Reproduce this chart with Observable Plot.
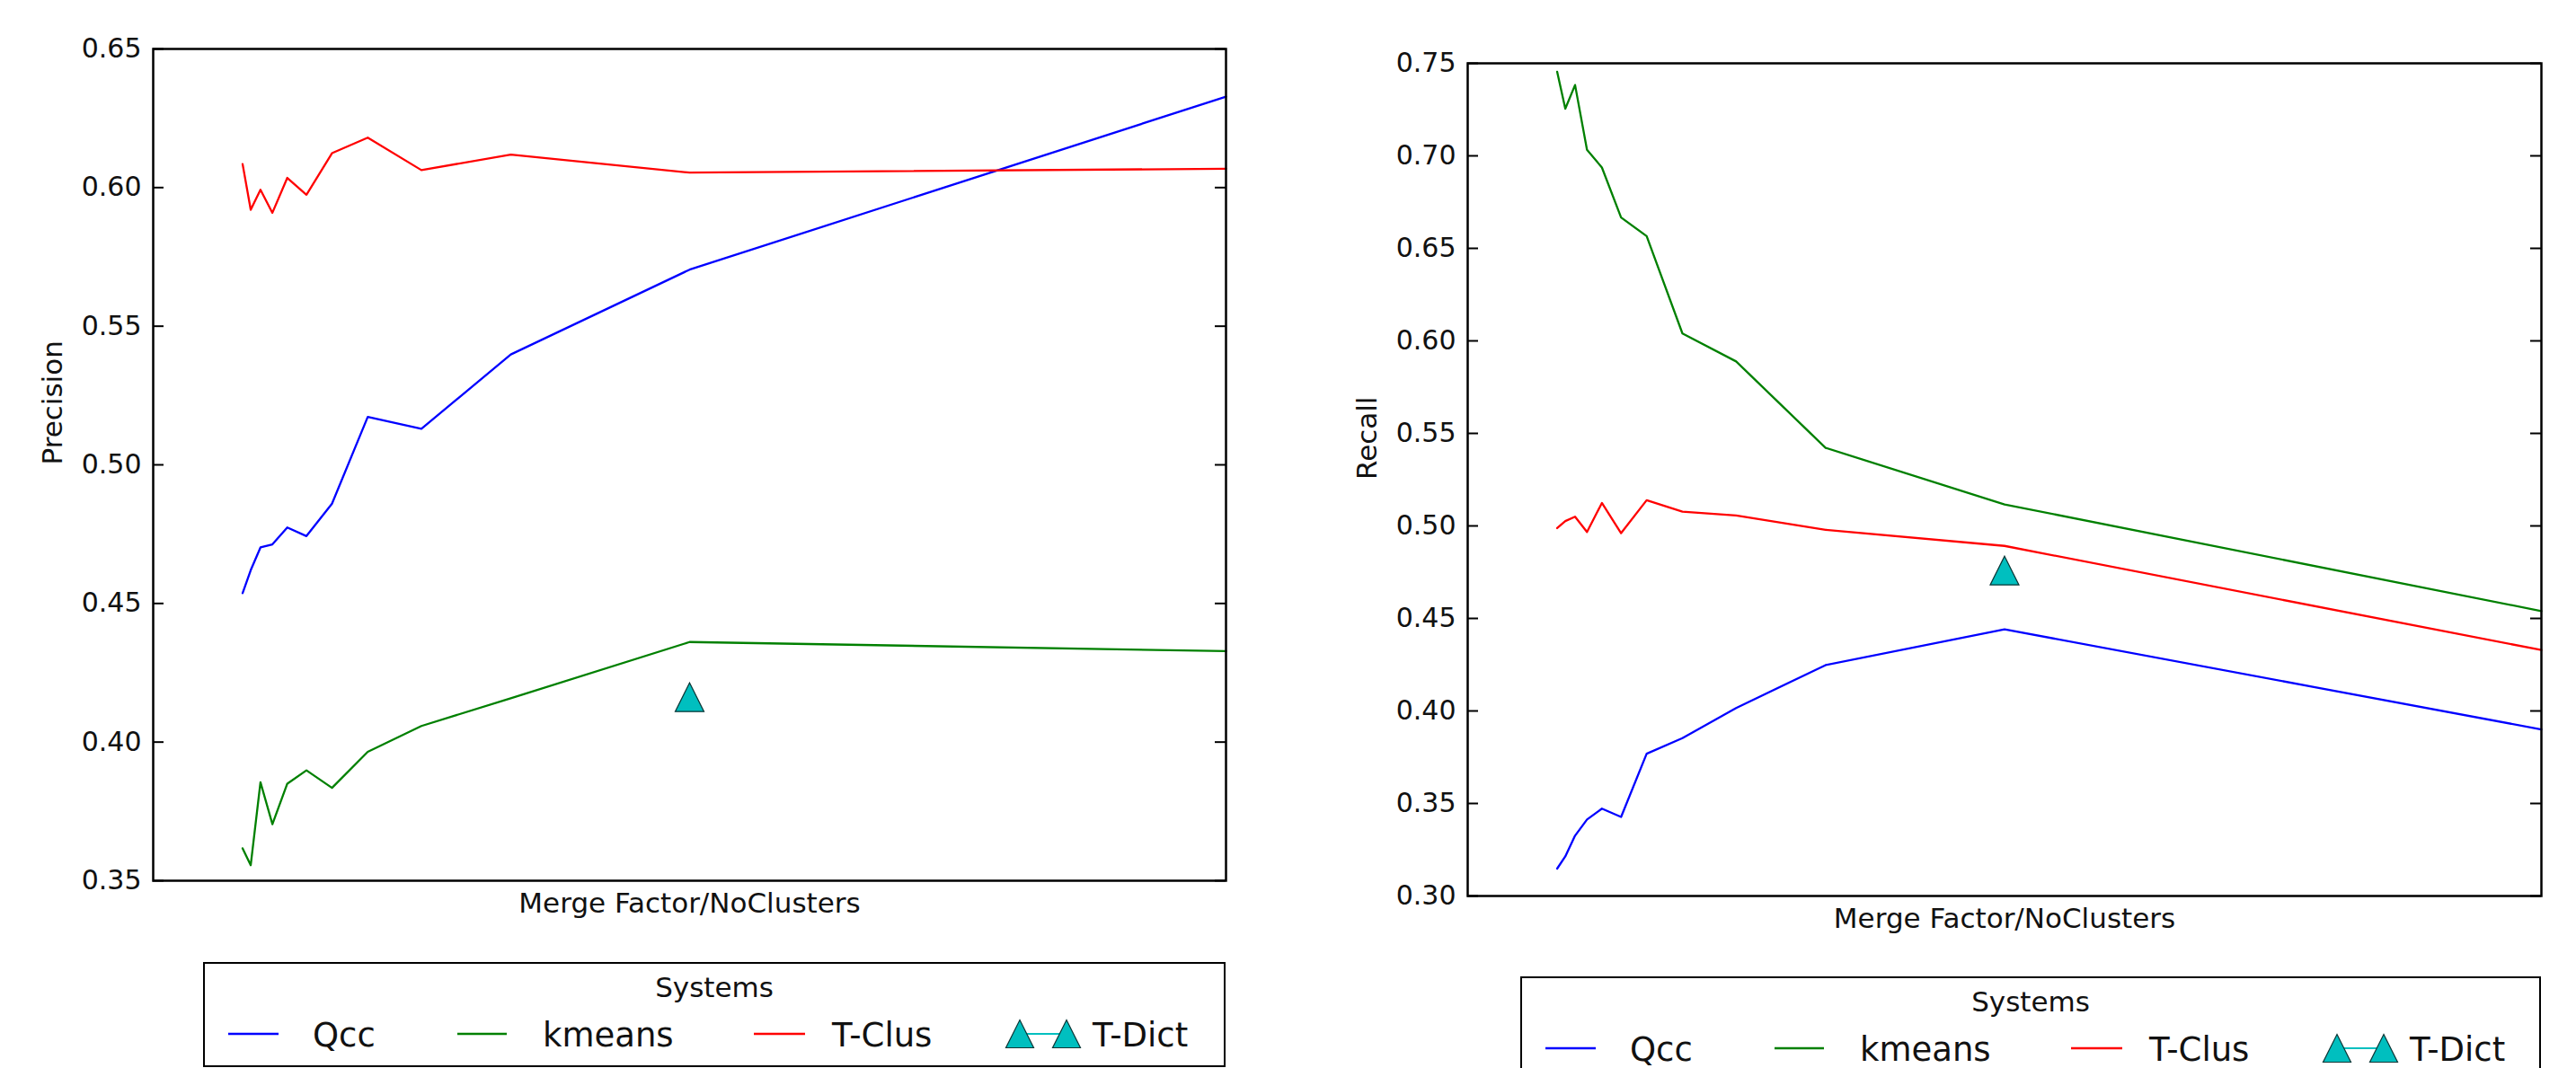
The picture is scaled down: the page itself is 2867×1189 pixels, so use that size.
<!DOCTYPE html>
<html>
<head>
<meta charset="utf-8">
<script src="https://cdn.jsdelivr.net/npm/d3@7"></script>
<script src="https://cdn.jsdelivr.net/npm/@observablehq/plot@0.6"></script>
<style>
  html, body { margin: 0; padding: 0; background: #fff; }
  #root { position: relative; width: 2867px; height: 1189px; overflow: hidden; background: #fff; font-family: "DejaVu Sans", sans-serif; }
  #root > * { position: absolute; }
</style>
</head>
<body>
<div id="root"></div>
<script>
// ---------------- data ----------------
const mergeFactor = [1/12, 1/11, 1/10, 1/9, 1/8, 1/7, 1/6, 1/5, 1/4, 1/3, 1/2, 1];
const lineSystems = ["Qcc", "kmeans", "T-Clus"];
const allSystems = ["Qcc", "kmeans", "T-Clus", "T-Dict"];

const precisionQcc    = [0.4537, 0.4620, 0.4702, 0.4713, 0.4774, 0.4743, 0.4860, 0.5173, 0.5130, 0.5398, 0.5704, 0.6328];
const precisionKmeans = [0.3617, 0.3556, 0.3855, 0.3704, 0.3850, 0.3898, 0.3835, 0.3965, 0.4058, 0.4158, 0.4361, 0.4328];
const precisionTClus  = [0.6085, 0.5920, 0.5992, 0.5909, 0.6035, 0.5974, 0.6124, 0.6180, 0.6063, 0.6119, 0.6054, 0.6068];
const precisionTDictX = [0.5];
const precisionTDict  = [0.4162];

const recallQcc    = [0.3148, 0.3214, 0.3326, 0.3413, 0.3472, 0.3427, 0.3769, 0.3853, 0.4016, 0.4248, 0.4441, 0.3900];
const recallKmeans = [0.7454, 0.7255, 0.7383, 0.7033, 0.6937, 0.6667, 0.6566, 0.6040, 0.5889, 0.5422, 0.5116, 0.4540];
const recallTClus  = [0.4988, 0.5026, 0.5050, 0.4967, 0.5124, 0.4961, 0.5139, 0.5077, 0.5056, 0.4979, 0.4892, 0.4329];
const recallTDictX = [0.5];
const recallTDict  = [0.4759];

const precisionTicks = [0.35, 0.40, 0.45, 0.50, 0.55, 0.60, 0.65];
const recallTicks    = [0.30, 0.35, 0.40, 0.45, 0.50, 0.55, 0.60, 0.65, 0.70, 0.75];

const xLabel = "Merge Factor/NoClusters";
const legendTitle = "Systems";

// ---------------- styles ----------------
const lineColors = ["#0000ff", "#008000", "#ff0000"];
const markerFill = "#00bfbf";
const FONT = "DejaVu Sans";

// matplotlib-like '^' marker: isosceles triangle, height = width
const triangleSymbol = {
  draw(context, size) {
    const h = Math.sqrt(size / Math.PI);
    context.moveTo(0, -h);
    context.lineTo(h, h);
    context.lineTo(-h, h);
    context.closePath();
  }
};

function toRows(series) {
  const rows = [];
  series.forEach((values, i) => {
    values.forEach((v, j) => rows.push({system: lineSystems[i], x: mergeFactor[j], value: v}));
  });
  return rows;
}

function panel({series, tdX, tdY, yDomain, yTicks, yLabel, width, height, mL, mR, mT, mB}) {
  const innerW = width - mL - mR;
  const rows = toRows(series);
  const td = tdX.map((x, i) => ({x, value: tdY[i]}));
  return Plot.plot({
    width, height,
    marginLeft: mL, marginRight: mR, marginTop: mT, marginBottom: mB,
    style: {fontFamily: FONT, background: "transparent", color: "#000", overflow: "visible"},
    x: {domain: [0, 1], axis: null},
    y: {domain: yDomain},
    color: {domain: lineSystems, range: lineColors},
    marks: [
      Plot.tickY(yTicks, {y: d => d, stroke: "#000", strokeWidth: 2, insetRight: innerW - 12}),
      Plot.tickY(yTicks, {y: d => d, stroke: "#000", strokeWidth: 2, insetLeft: innerW - 12}),
      Plot.axisY({ticks: yTicks, tickSize: 0, tickPadding: 13, tickFormat: d3.format(".2f"), fontSize: 30, label: null, fill: "#111"}),
      Plot.line(rows, {x: "x", y: "value", z: "system", stroke: "system", strokeWidth: 2.3}),
      Plot.dot(td, {x: "x", y: "value", symbol: triangleSymbol, r: 16, fill: markerFill, stroke: "#0b3535", strokeWidth: 1.2}),
      Plot.frame({stroke: "#000", strokeWidth: 2.5}),
      Plot.text([yLabel], {frameAnchor: "left", dx: -111, rotate: -90, fontSize: 31, fill: "#111"}),
      Plot.text([xLabel], {frameAnchor: "bottom", lineAnchor: "top", dy: 13, fontSize: 31, fill: "#111"})
    ]
  });
}

const root = document.getElementById("root");

const left = panel({
  series: [precisionQcc, precisionKmeans, precisionTClus],
  tdX: precisionTDictX, tdY: precisionTDict,
  yDomain: [0.35, 0.65], yTicks: precisionTicks, yLabel: "Precision",
  width: 1400, height: 1040, mL: 170, mR: 36, mT: 54, mB: 60
});
left.style.left = "0px"; left.style.top = "0px";
root.appendChild(left);

const right = panel({
  series: [recallQcc, recallKmeans, recallTClus],
  tdX: recallTDictX, tdY: recallTDict,
  yDomain: [0.30, 0.75], yTicks: recallTicks, yLabel: "Recall",
  width: 1417, height: 1060, mL: 183, mR: 39, mT: 70, mB: 63
});
right.style.left = "1450px"; right.style.top = "0px";
root.appendChild(right);

// ---------------- legends ----------------
const itemLayout = [
  {lineX: [28, 84], textX: 122},
  {lineX: [283, 338], textX: 378},
  {lineX: [613, 670], textX: 700},
  {lineX: [893, 977], textX: 990}
];

function legend(x, y, w, h) {
  const svg = d3.select(root).append("svg")
    .style("left", x + "px").style("top", y + "px")
    .attr("width", w + 4).attr("height", h + 4)
    .style("font-family", FONT);
  svg.append("rect").attr("x", 1).attr("y", 1).attr("width", w).attr("height", h)
    .attr("fill", "#fff").attr("stroke", "#000").attr("stroke-width", 2);
  svg.append("text").attr("x", 1 + w / 2).attr("y", 39).attr("text-anchor", "middle")
    .attr("font-size", 31).attr("fill", "#111").text(legendTitle);
  const cy = 80;
  allSystems.forEach((name, i) => {
    const L = itemLayout[i];
    if (i < 3) {
      svg.append("line").attr("x1", L.lineX[0]).attr("x2", L.lineX[1]).attr("y1", cy).attr("y2", cy)
        .attr("stroke", lineColors[i]).attr("stroke-width", 2.3);
    } else {
      const c1 = L.lineX[0] + 16, c2 = L.lineX[1] - 16;
      svg.append("line").attr("x1", c1).attr("x2", c2).attr("y1", cy).attr("y2", cy)
        .attr("stroke", markerFill).attr("stroke-width", 2);
      [c1, c2].forEach(cx => {
        const p = d3.path();
        triangleSymbol.draw(p, Math.PI * 15.5 * 15.5);
        svg.append("path").attr("d", p.toString()).attr("transform", `translate(${cx},${cy})`)
          .attr("fill", markerFill).attr("stroke", "#0b3535").attr("stroke-width", 1.2);
      });
    }
    svg.append("text").attr("x", L.textX).attr("y", 94).attr("font-size", 37).attr("fill", "#111").text(name);
  });
}

legend(226, 1071, 1136, 115);
legend(1692, 1087, 1134, 115);
</script>
</body>
</html>
